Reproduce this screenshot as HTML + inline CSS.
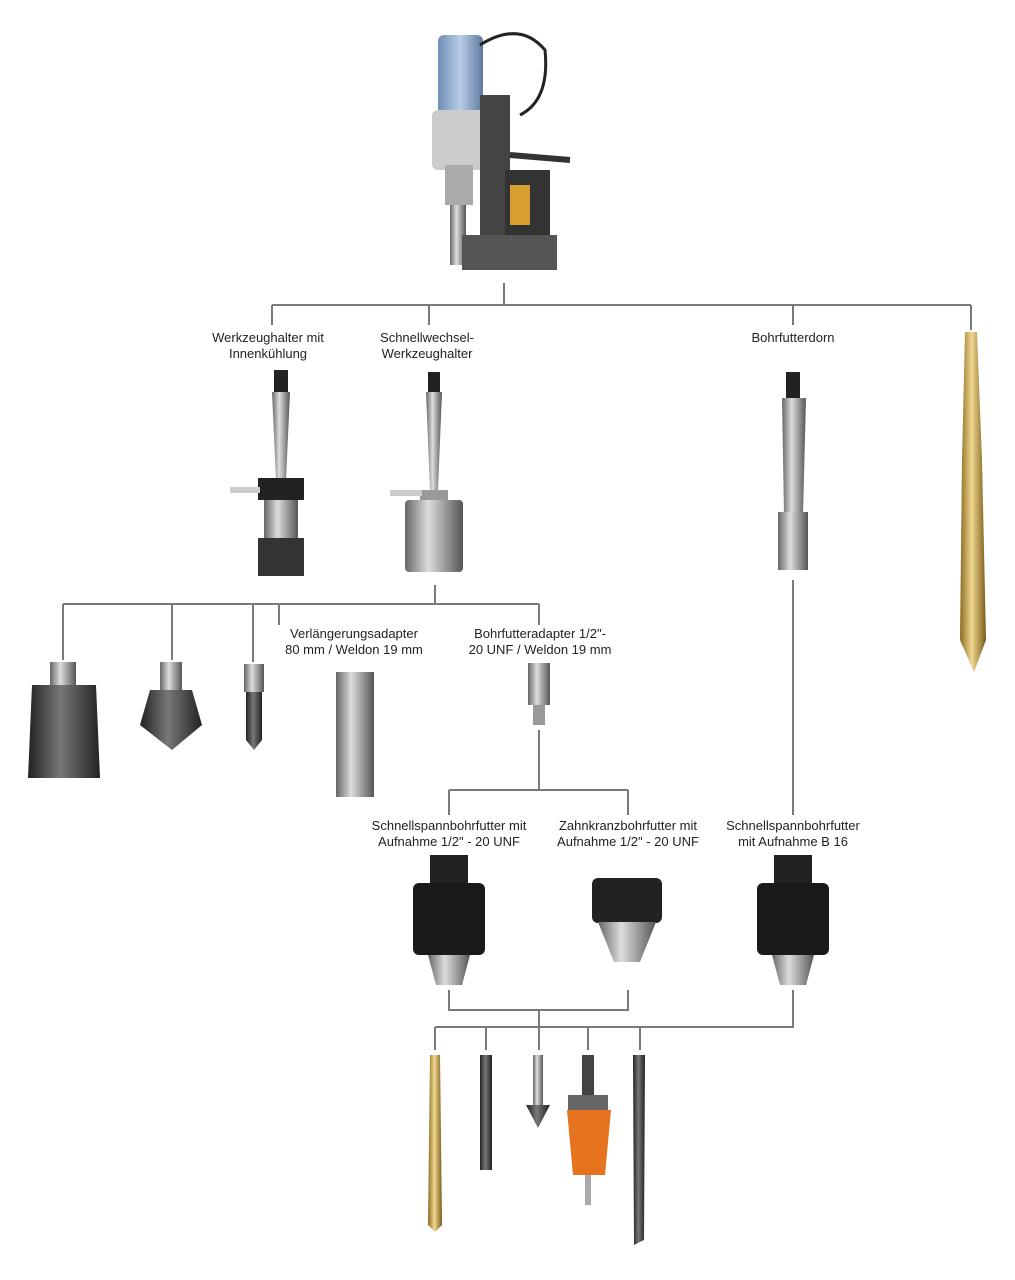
<!DOCTYPE html>
<html><head><meta charset="utf-8"><style>
html,body{margin:0;padding:0;background:#fff}
svg{display:block}
text{font-family:"Liberation Sans",sans-serif;font-size:13px;fill:#222;text-anchor:middle}
</style></head><body>
<svg width="1015" height="1280" viewBox="0 0 1015 1280" xmlns="http://www.w3.org/2000/svg">
<defs>
<linearGradient id="st" x1="0" x2="1"><stop offset="0" stop-color="#666"/><stop offset=".4" stop-color="#ddd"/><stop offset="1" stop-color="#555"/></linearGradient>
<linearGradient id="gd" x1="0" x2="1"><stop offset="0" stop-color="#8a6a20"/><stop offset=".45" stop-color="#f0d890"/><stop offset="1" stop-color="#7a5a18"/></linearGradient>
<linearGradient id="dk" x1="0" x2="1"><stop offset="0" stop-color="#222"/><stop offset=".45" stop-color="#777"/><stop offset="1" stop-color="#222"/></linearGradient>
<linearGradient id="bl" x1="0" x2="1"><stop offset="0" stop-color="#6f8fb5"/><stop offset=".5" stop-color="#b8cde6"/><stop offset="1" stop-color="#5d7aa0"/></linearGradient>
</defs>
<g stroke="#7a7a7a" stroke-width="2" fill="none">
<path d="M504 283V305M272 305H971M272 305V325M429 305V325M793 305V325M971 305V330"/>
<path d="M63 604H539M63 604V660M172 604V660M253 604V662M279 604V625M435 585V604M539 604V625"/>
<path d="M539 730V790M449 790H628M449 790V815M628 790V815"/>
<path d="M793 580V815"/>
<path d="M449 990V1010H628V990M539 1010V1027M793 990V1027H435M435 1027V1050M486 1027V1050M539 1027V1050M588 1027V1050M640 1027V1050"/>
</g>
<!-- drill machine -->
<g>
<rect x="438" y="35" width="45" height="80" rx="6" fill="url(#bl)"/>
<path d="M480 45 Q520 20 545 50 Q550 100 520 115" stroke="#222" stroke-width="3" fill="none"/>
<rect x="432" y="110" width="55" height="60" rx="6" fill="#ccc"/>
<rect x="445" y="165" width="28" height="40" fill="#aaa"/>
<rect x="450" y="205" width="16" height="60" fill="url(#st)"/>
<rect x="480" y="95" width="30" height="165" fill="#444"/>
<rect x="505" y="170" width="45" height="75" fill="#333"/>
<rect x="510" y="185" width="20" height="40" fill="#d8a030"/>
<rect x="462" y="235" width="95" height="35" fill="#555"/>
<path d="M510 155 L570 160" stroke="#333" stroke-width="6"/>
</g>
<!-- labels -->
<text x="268" y="342">Werkzeughalter mit</text><text x="268" y="358">Innenkühlung</text>
<text x="427" y="342">Schnellwechsel-</text><text x="427" y="358">Werkzeughalter</text>
<text x="793" y="342">Bohrfutterdorn</text>
<text x="354" y="638">Verlängerungsadapter</text><text x="354" y="654">80 mm / Weldon 19 mm</text>
<text x="540" y="638">Bohrfutteradapter 1/2"-</text><text x="540" y="654">20 UNF / Weldon 19 mm</text>
<text x="449" y="830">Schnellspannbohrfutter mit</text><text x="449" y="846">Aufnahme 1/2" - 20 UNF</text>
<text x="628" y="830">Zahnkranzbohrfutter mit</text><text x="628" y="846">Aufnahme 1/2" - 20 UNF</text>
<text x="793" y="830">Schnellspannbohrfutter</text><text x="793" y="846">mit Aufnahme B 16</text>
<!-- holders -->
<rect x="274" y="370" width="14" height="22" fill="#222"/>
<path d="M272 392H290L286 480H276Z" fill="url(#st)"/>
<rect x="258" y="478" width="46" height="22" fill="#222"/>
<rect x="230" y="487" width="30" height="6" fill="#ccc"/>
<rect x="264" y="500" width="34" height="40" fill="url(#st)"/>
<rect x="258" y="538" width="46" height="38" fill="#333"/>
<rect x="428" y="372" width="12" height="20" fill="#222"/>
<path d="M426 392H442L438 490H430Z" fill="url(#st)"/>
<rect x="420" y="490" width="28" height="12" fill="#999"/>
<rect x="390" y="490" width="32" height="6" fill="#ccc"/>
<rect x="405" y="500" width="58" height="72" rx="4" fill="url(#st)"/>
<rect x="786" y="372" width="14" height="26" fill="#222"/>
<path d="M782 398H806L803 515H784Z" fill="url(#st)"/>
<rect x="778" y="512" width="30" height="58" fill="url(#st)"/>
<!-- long drill -->
<path d="M965 332H977L982 460L986 640L974 672L960 640L962 460Z" fill="url(#gd)"/>
<!-- cutters -->
<rect x="50" y="662" width="26" height="25" fill="url(#st)"/>
<path d="M32 685H96L100 778H28Z" fill="url(#dk)"/>
<rect x="160" y="662" width="22" height="30" fill="url(#st)"/>
<path d="M150 690H192L202 725L172 750L140 725Z" fill="url(#dk)"/>
<rect x="244" y="664" width="20" height="28" fill="url(#st)"/>
<path d="M246 692H262V740L254 750L246 740Z" fill="url(#dk)"/>
<rect x="336" y="672" width="38" height="125" fill="url(#st)"/>
<rect x="528" y="663" width="22" height="42" fill="url(#st)"/>
<rect x="533" y="705" width="12" height="20" fill="#999"/>
<!-- chucks -->
<g id="c1"><rect x="430" y="855" width="38" height="28" fill="#222"/><rect x="413" y="883" width="72" height="72" rx="6" fill="#1a1a1a"/><path d="M428 955H470L462 985H436Z" fill="url(#st)"/></g>
<rect x="592" y="878" width="70" height="45" rx="6" fill="#222"/><path d="M598 922H656L640 962H614Z" fill="url(#st)"/>
<rect x="774" y="855" width="38" height="28" fill="#222"/><rect x="757" y="883" width="72" height="72" rx="6" fill="#1a1a1a"/><path d="M772 955H814L806 985H780Z" fill="url(#st)"/>
<!-- bottom tools -->
<path d="M430 1055H440L442 1225L435 1232L428 1225Z" fill="url(#gd)"/>
<path d="M480 1055H492V1170H480Z" fill="url(#dk)"/>
<rect x="533" y="1055" width="10" height="50" fill="url(#st)"/><path d="M526 1105H550L538 1128Z" fill="url(#dk)"/>
<rect x="582" y="1055" width="12" height="40" fill="#444"/><rect x="568" y="1095" width="40" height="15" fill="#666"/><path d="M567 1110H611L605 1175H573Z" fill="#e6731e"/><rect x="585" y="1175" width="6" height="30" fill="#aaa"/>
<path d="M633 1055H645L644 1240L634 1245Z" fill="url(#dk)"/>
</svg>
</body></html>
